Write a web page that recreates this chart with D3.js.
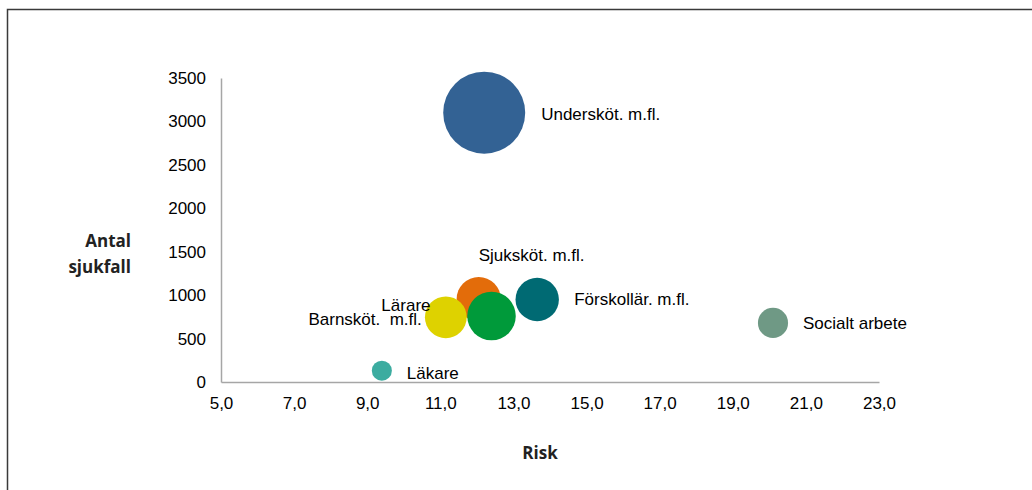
<!DOCTYPE html>
<html>
<head>
<meta charset="utf-8">
<script src="https://cdn.jsdelivr.net/npm/d3@7"></script>
<style>
  html, body { margin: 0; padding: 0; background: #fff; }
  svg { display: block; }
  .lbl { font-family: "Liberation Sans", Arial, sans-serif; font-size: 17px; fill: #000; white-space: pre; }
  .tick text { font-family: "Liberation Sans", Arial, sans-serif; font-size: 17px; fill: #000; }
  .title { font-family: "Open Sans", sans-serif; font-weight: bold; font-size: 17px; fill: #222; }
</style>
</head>
<body>
<script>
// Occupational groups: risk (x), number of sick cases (y), bubble size
const groups  = ["Undersköt. m.fl.", "Sjuksköt. m.fl.", "Förskollär. m.fl.", "Lärare", "Barnsköt.  m.fl.", "Läkare", "Socialt arbete"];
const risk    = [12.2, 12.05, 13.65, 12.4, 11.15, 9.4, 20.1];
const cases   = [3100, 955, 950, 760, 745, 130, 680];
const sizes   = [100, 29, 28, 35, 26, 6, 13.5];
const colors  = ["#336294", "#E36C0A", "#006A73", "#009A3A", "#DED200", "#3CACA0", "#6F9985"];
const xTicks  = [5, 7, 9, 11, 13, 15, 17, 19, 21, 23];
const yTicks  = [0, 500, 1000, 1500, 2000, 2500, 3000, 3500];

// label placement relative to each bubble centre
const labelDx     = [57, 0, 37, -61, -24, 25, 30];
const labelDy     = [1, -44, 0, -11, 2, 2, 0];
const labelAnchor = ["start", "start", "start", "end", "end", "start", "start"];

const W = 1032, H = 490;
const svg = d3.select("body").append("svg").attr("width", W).attr("height", H);

// outer frame (top and left edges visible)
svg.append("path")
  .attr("d", "M7.5,490 V9.5 H1032")
  .attr("fill", "none").attr("stroke", "#3a3a3a").attr("stroke-width", 1.5);

const x = d3.scaleLinear().domain([5, 23]).range([221, 879]);
const y = d3.scaleLinear().domain([0, 3500]).range([382, 78]);
const r = d3.scaleSqrt().domain([0, 100]).range([0, 41]);

// y axis
const yAxis = svg.append("g").attr("transform", "translate(221,0)")
  .call(d3.axisLeft(y).tickValues(yTicks).tickSize(0).tickPadding(15).tickFormat(d3.format("d")));
yAxis.select(".domain").attr("stroke", "#a6a6a6").attr("stroke-width", 1.5);

// x axis
const fmt = d => d.toFixed(1).replace(".", ",");
const xAxis = svg.append("g").attr("transform", "translate(0,382)")
  .call(d3.axisBottom(x).tickValues(xTicks).tickSize(0).tickPadding(15).tickFormat(fmt));
xAxis.select(".domain").attr("stroke", "#a6a6a6").attr("stroke-width", 1.5);

// bubbles
const data = groups.map((g, i) => ({ g, x: risk[i], y: cases[i], s: sizes[i], c: colors[i], i }));
const drawOrder = [0, 1, 2, 4, 3, 5, 6];
svg.append("g").selectAll("circle")
  .data(drawOrder.map(i => data[i]))
  .join("circle")
  .attr("cx", d => x(d.x))
  .attr("cy", d => y(d.y))
  .attr("r", d => r(d.s))
  .attr("fill", d => d.c);

// data labels
svg.append("g").selectAll("text")
  .data(data)
  .join("text")
  .attr("class", "lbl")
  .attr("x", d => x(d.x) + labelDx[d.i])
  .attr("y", d => y(d.y) + labelDy[d.i])
  .attr("dy", "0.35em")
  .attr("text-anchor", d => labelAnchor[d.i])
  .text(d => d.g);

// axis titles
svg.append("text").attr("class", "title").attr("x", 131).attr("y", 247)
  .attr("text-anchor", "end").text("Antal");
svg.append("text").attr("class", "title").attr("x", 131).attr("y", 273)
  .attr("text-anchor", "end").text("sjukfall");
svg.append("text").attr("class", "title").attr("x", 540).attr("y", 459)
  .attr("text-anchor", "middle").text("Risk");
</script>
</body>
</html>
